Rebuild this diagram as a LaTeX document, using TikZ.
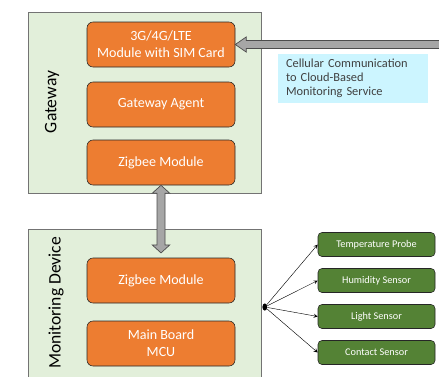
\documentclass[tikz,border=0pt]{standalone}
\usepackage{fontspec}
\setmainfont{Carlito}
\usepackage{tikz}
\usetikzlibrary{positioning,calc,arrows,shapes.geometric}
\definecolor{modorange}{HTML}{ED7D31}
\definecolor{framegreen}{HTML}{E2EFDA}
\definecolor{sensorgreen}{HTML}{548235}
\definecolor{cloudcyan}{HTML}{CCF5FF}
\definecolor{pipegray}{HTML}{A6A6A6}
\tikzstyle{frame} = [rectangle, minimum width=5.825cm, draw=black!55, fill=framegreen, line width=0.6pt]
\tikzstyle{module} = [rectangle, rounded corners=0.15cm, minimum width=3.7cm, minimum height=1.125cm, text centered, align=center, draw=black!85, fill=modorange, text=white, font=\fontsize{10}{12}\selectfont]
\tikzstyle{sensor} = [rectangle, rounded corners=0.1cm, minimum width=2.925cm, minimum height=0.6cm, text centered, draw=black!85, fill=sensorgreen, text=white, font=\fontsize{7.3}{8.5}\selectfont]
\tikzstyle{fat} = [draw=black!70, fill=pipegray, line width=0.5pt, line join=miter]
\tikzstyle{arrow} = [->,>=stealth, line width=0.3pt]
\begin{document}
\begin{tikzpicture}
\useasboundingbox (0,0) rectangle (10.975,-9.4);
% frames
\node[frame, minimum height=4.525cm] (gw) at (3.6125,-2.5625) {};
\node[frame, minimum height=3.9cm] (dev) at (3.6125,-7.675) {};
\node[rotate=90, font=\fontsize{12.5}{14}\selectfont] (gwlabel) at (1.3,-2.55) {Gateway};
\node[rotate=90, font=\fontsize{12.5}{14}\selectfont] (devlabel) at (1.4,-7.575) {Monitoring Device};
% gateway modules
\node[module] (modem) at (4.025,-1.1125)
          {3G/4G/LTE\\Module with SIM Card};
\node[module] (agent) at (modem) [xshift=0cm,yshift=-1.5cm]
          {Gateway Agent};
\node[module] (gzig) at (agent) [xshift=0cm,yshift=-1.45cm]
          {Zigbee Module};
% device modules
\node[module] (mzig) at (gzig) [xshift=0cm,yshift=-2.95cm]
          {Zigbee Module};
\node[module] (mcu) at (mzig) [xshift=0cm,yshift=-1.575cm]
          {Main Board\\MCU};
% cloud label
\node[rectangle, fill=cloudcyan, minimum width=3.75cm, minimum height=1.175cm, text width=3.35cm, align=left, text=black!75, font=\fontsize{8.8}{10}\selectfont] (cloudtxt) at (8.825,-1.9625)
          {Cellular Communication\\to Cloud-Based\\Monitoring Service};
% sensors
\node[sensor] (temp) at (9.4125,-6.1125) {Temperature Probe};
\node[sensor] (humid) at (temp) [xshift=0cm,yshift=-0.9cm] {Humidity Sensor};
\node[sensor] (light) at (humid) [xshift=0cm,yshift=-0.9cm] {Light Sensor};
\node[sensor] (contact) at (light) [xshift=0cm,yshift=-0.9cm] {Contact Sensor};
\node[ellipse, fill=black, inner sep=0pt, minimum width=0.12cm, minimum height=0.18cm] (hub) at (6.62,-7.675) {};
% fat arrows
\coordinate (cloud) at (11.2,-1.1125);
\filldraw[fat] (modem.east) -- ++(0.275,0.19) -- ++(0,-0.09)
          -- ($(cloud)+(0,0.1)$) -- ($(cloud)+(0,-0.1)$)
          -- ($(modem.east)+(0.275,-0.1)$) -- ++(0,-0.09) -- cycle;
\coordinate (zigtip) at ($(mzig.north)+(0,0.12)$);
\filldraw[fat] (gzig.south) -- ++(0.22,-0.2) -- ++(-0.12,0)
          -- ($(zigtip)+(0.1,0.2)$) -- ++(0.12,0) -- (zigtip)
          -- ++(-0.22,0.2) -- ++(0.12,0)
          -- ($(gzig.south)+(-0.1,-0.2)$) -- ++(-0.12,0) -- cycle;
% sensor links
\foreach \s in {temp,humid,light,contact}
  \draw[arrow] (hub) -- (\s.west);
\end{tikzpicture}
\end{document}
